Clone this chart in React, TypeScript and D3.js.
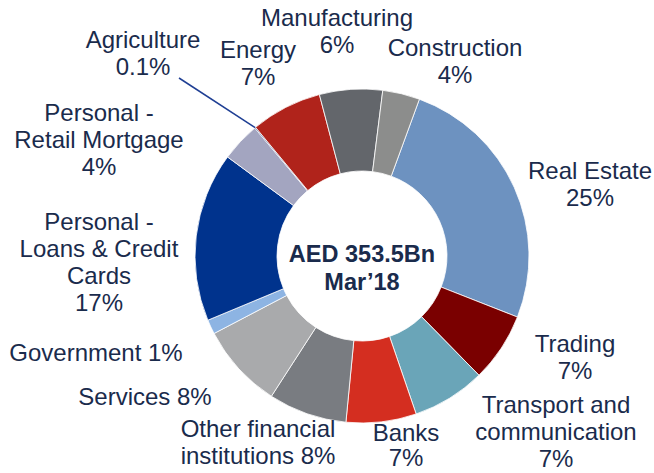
import React from "react";
import * as d3 from "d3";

const categories = [
  "Real Estate",
  "Trading",
  "Transport and communication",
  "Banks",
  "Other financial institutions",
  "Services",
  "Government",
  "Personal - Loans & Credit Cards",
  "Personal - Retail Mortgage",
  "Agriculture",
  "Energy",
  "Manufacturing",
  "Construction",
];
const values = [25.4, 6.7, 7.1, 6.8, 7.6, 8.2, 1.4, 16.4, 3.8, 0.1, 6.9, 6.1, 3.6];
const colors = [
  "#6D92C0",
  "#7A0000",
  "#6AA5B8",
  "#D42E20",
  "#797C81",
  "#A9AAAC",
  "#8DB4E3",
  "#00338D",
  "#A3A5C0",
  "#0A2D78",
  "#B0231B",
  "#63666B",
  "#8C8D8C",
];
// label lines and positions [x, firstBaseline]
const labelLines = [
  ["Real Estate", "25%"],
  ["Trading", "7%"],
  ["Transport and", "communication", "7%"],
  ["Banks", "7%"],
  ["Other financial", "institutions 8%"],
  ["Services 8%"],
  ["Government 1%"],
  ["Personal -", "Loans & Credit", "Cards", "17%"],
  ["Personal -", "Retail Mortgage", "4%"],
  ["Agriculture", "0.1%"],
  ["Energy", "7%"],
  ["Manufacturing", "6%"],
  ["Construction", "4%"],
];
const labelPos: [number, number][] = [
  [590, 179],
  [575, 352],
  [556, 413],
  [406, 441],
  [258, 437],
  [145, 405],
  [96, 361],
  [99, 230],
  [99, 121],
  [143, 48],
  [258, 58],
  [337, 26],
  [455, 56],
];
const centerLines = ["AED 353.5Bn", "Mar\u201918"];

const W = 654;
const H = 473;
const cx = 362;
const cy = 256;
const rOuter = 167;
const rInner = 85;
const lineH = 27;
const textColor = "#1A2B4C";

export default function App() {
  const start = (20.1 * Math.PI) / 180;
  const pie = d3
    .pie<number>()
    .sort(null)
    .value((d) => d)
    .startAngle(start)
    .endAngle(start + 2 * Math.PI);
  const arcs = pie(values);
  const arcGen = d3.arc<d3.PieArcDatum<number>>().innerRadius(rInner).outerRadius(rOuter);

  const agri = arcs[9];
  const agriMid = (agri.startAngle + agri.endAngle) / 2;
  const agriEnd: [number, number] = [
    cx + rOuter * Math.sin(agriMid),
    cy - rOuter * Math.cos(agriMid),
  ];

  return (
    <svg
      width={W}
      height={H}
      style={{ position: "absolute", left: 0, top: 0, background: "#fff" }}
      fontFamily="'Liberation Sans', Arial, sans-serif"
    >
      <g transform={`translate(${cx},${cy})`}>
        {arcs.map((a, i) => (
          <path key={i} d={arcGen(a) || ""} fill={colors[i]} stroke="#fff" strokeWidth={0.8} />
        ))}
      </g>
      <line
        x1={179}
        y1={78}
        x2={agriEnd[0]}
        y2={agriEnd[1]}
        stroke="#1F3F94"
        strokeWidth={1.5}
      />
      {labelLines.map((lines, i) => (
        <text
          key={i}
          x={labelPos[i][0]}
          y={labelPos[i][1]}
          textAnchor="middle"
          fontSize={24}
          fill={textColor}
        >
          {lines.map((l, j) => (
            <tspan key={j} x={labelPos[i][0]} dy={j === 0 ? 0 : i === 3 ? 25 : lineH}>
              {l}
            </tspan>
          ))}
        </text>
      ))}
      <text
        x={cx}
        y={262}
        textAnchor="middle"
        fontSize={23.5}
        fontWeight="bold"
        fill={textColor}
      >
        {centerLines.map((l, j) => (
          <tspan key={j} x={cx} dy={j === 0 ? 0 : 28}>
            {l}
          </tspan>
        ))}
      </text>
    </svg>
  );
}
